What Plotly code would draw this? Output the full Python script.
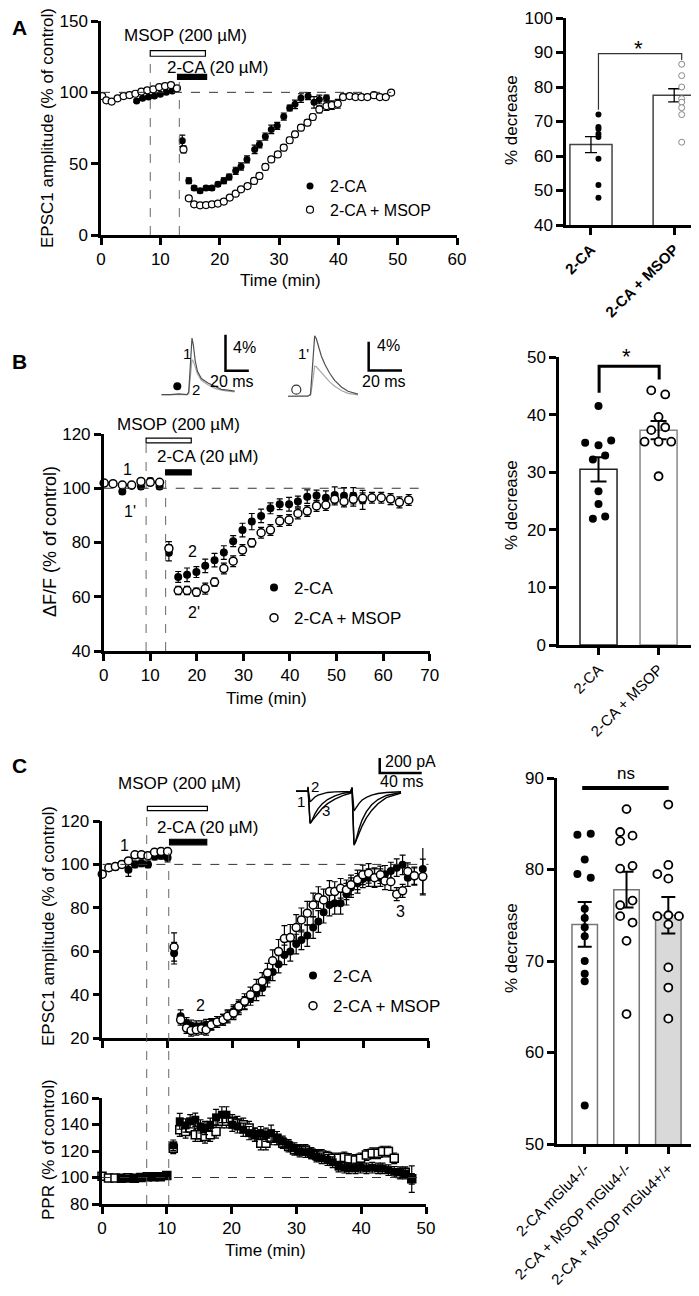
import plotly.graph_objects as go

FONT = "Liberation Sans, Arial, sans-serif"
W, H = 699, 1296

# ---------------- Panel A : EPSC1 amplitude time course ----------------
a_ca_t = [6, 7, 8, 9, 10, 11, 12,
          13.7, 14.8, 15.7, 16.7, 17.7, 18.7, 19.7, 20.7, 21.6, 22.7, 23.6, 24.6,
          25.9, 26.7, 27.7, 28.7, 29.7, 30.8, 31.8, 32.7, 33.7, 34.9, 35.9, 36.8, 38.0]
a_ca_y = [94, 95.8, 96.7, 97.4, 98.6, 100, 101,
          66, 38, 33, 31, 33, 33, 35.5, 38, 40.6, 45, 48, 53,
          60, 63.5, 69, 74, 76.5, 83, 89, 91.6, 96, 97.4, 93, 95, 96]
a_ca_e = [1, 1, 1, 1, 1, 1, 1,
          4, 2, 1.5, 1.5, 1.5, 1.5, 1.5, 2, 2, 2.5, 2.5, 2.5,
          3, 2.5, 2.5, 3, 2.5, 2.5, 2, 3, 3, 2.5, 4, 3, 2]

a_ms_t = [0.2, 0.9, 1.8, 2.8, 3.8, 4.8, 5.8, 6.8, 7.8, 8.8, 9.8, 10.8, 11.8, 12.8,
          13.9, 14.8, 15.7, 16.7, 17.7, 18.7, 19.7, 20.7, 21.7, 22.7, 23.6, 24.7,
          25.8, 26.7, 27.7, 28.7, 29.8, 30.8, 31.8, 32.7, 33.7, 34.8, 35.7, 36.8,
          38.0, 38.9, 39.9, 40.8, 41.9, 42.9, 43.9, 44.9, 46.0, 47.0, 48.0, 48.9]
a_ms_y = [97.4, 94.4, 93.5, 95.8, 97.4, 98.1, 99, 100.5, 101.4, 102.1, 103.7, 104.4, 105.1, 102.8,
          60, 25.7, 21.5, 20.8, 21, 21.5, 22, 23.4, 26.2, 29, 32, 34.3,
          37.9, 41.4, 47.7, 53, 56.5, 61.2, 66.4, 70.6, 75.2, 78.7, 82.7, 88,
          90.4, 91, 92, 96.7, 97.4, 96.7, 96.7, 96.7, 98, 96.7, 96.7, 99.8]
a_ms_e = [1, 1, 1, 1, 1, 1, 1, 1, 1, 1, 1, 1, 1, 1.5,
          2.5, 1.5, 1, 1, 1, 1, 1, 1, 1.5, 1.5, 1.5, 1.5,
          2, 2, 2, 2, 2, 2, 2, 2, 2, 2, 2, 2.5,
          3, 3, 3, 2, 1.5, 1.5, 1.5, 1.5, 1.5, 1.5, 1.5, 1.5]

# drug application (min)
a_msop_on, a_msop_off = 8.3, 17.6
a_ca_on, a_ca_off = 13.2, 17.8

# Panel A : bar chart (% decrease)
a_bar_labels = ["<b>2-CA</b>", "<b>2-CA + MSOP</b>"]
a_bar_mean = [63.3, 77.6]
a_bar_sem = [2.3, 1.9]
a_ca_pts = [72, 68.4, 67.8, 66.4, 65.5, 59.2, 51.6, 47.9]
a_ms_pts = [86.6, 83.3, 80, 76.6, 75.6, 74, 72, 64]

# ---------------- Panel B : dF/F time course ----------------
b_ca_t = [4, 6, 8, 10, 12,
          14, 16, 17.9, 19.9, 21.8, 23.8, 25.8, 27.8, 29.8, 31.8, 33.8, 35.8,
          37.8, 39.8, 41.7, 43.7, 45.7, 47.7, 49.6, 51.6, 53.6, 55.6]
b_ca_y = [98.8, 100.9, 100.6, 102.7, 100.6,
          76.2, 67.3, 68.1, 69.1, 71.4, 73.5, 76.3, 80.5, 84.6, 87.7, 89.8, 92.6,
          94.1, 94.1, 95.1, 96.9, 97.3, 96.5, 97.5, 97.2, 97.2, 95.7]
b_ca_e = [1, 1, 1, 1, 1,
          3, 2, 2.5, 2, 2.5, 2.5, 2.5, 2, 2.5, 3, 2.5, 2,
          2, 2.5, 2, 2.5, 2, 2.5, 3, 3, 3, 3.5]

b_ms_t = [0.1, 2, 4, 6, 8, 10, 12,
          14, 16, 17.9, 19.9, 21.8, 23.8, 25.8, 27.8, 29.8, 31.8, 33.8, 35.8,
          37.8, 39.8, 41.7, 43.7, 45.7, 47.7, 49.6, 51.6, 53.6, 55.6, 57.6, 59.6,
          61.6, 63.5, 65.5]
b_ms_y = [101.9, 101.7, 101.2, 101.2, 102.5, 102.2, 102.2,
          77.8, 62.3, 62.3, 61.7, 63, 65.4, 70.4, 73.1, 77.2, 79.9, 83.6, 84.6,
          87.9, 88.3, 90.7, 91.6, 93.5, 93.8, 95.9, 95.1, 95.9, 96.3, 96.5, 96.5,
          96, 94.8, 95.7]
b_ms_e = [0.8, 0.8, 1, 1, 1, 1, 1,
          2.5, 1.5, 1.5, 1.5, 2, 1.5, 2, 2, 2, 1.5, 2, 2,
          2, 2, 2, 2, 2, 2, 2, 2, 2.5, 2, 2, 2,
          2, 2, 2]

b_msop_on, b_msop_off = 9.1, 18.8
b_ca_on, b_ca_off = 13.3, 18.8

# Panel B : example dF/F transients (ms, %)
b1_t = [0, 8, 15, 22, 23.5, 25, 26.3, 27.5, 29, 31, 34.3, 40, 46, 51.4, 57, 62.9]
b1_ctrl = [0, 0, 0.1, 0, 0.3, 4, 6.3, 5.5, 3.8, 2.6, 1.8, 1.3, 0.9, 0.6, 0.5, 0.4]
b1_drug = [0, 0, 0, 0, 0.1, 2.2, 3.9, 3.7, 3.0, 2.3, 1.6, 1.1, 0.7, 0.5, 0.4, 0.3]
b2_t = [0, 4, 8, 12, 13.5, 14.5, 15.3, 16, 17, 18.5, 20, 22, 25, 28, 32, 36, 42]
b2_ctrl = [0, 0.05, 0, 0, 0.3, 3.5, 7, 8.4, 8.0, 6.8, 5.6, 4.5, 3.2, 2.2, 1.3, 0.7, 0.3]
b2_drug = [0, 0, 0, 0, 0.1, 1.5, 3.4, 4.2, 4.1, 3.7, 3.2, 2.7, 2.0, 1.4, 0.8, 0.4, 0.2]
b_scale_pct, b_scale_ms = 4, 20

# Panel B : bar chart
b_bar_labels = ["2-CA", "2-CA + MSOP"]
b_bar_mean = [30.5, 37.3]
b_bar_sem = [2.1, 1.6]
b_ca_pts = [41.5, 35.1, 34.7, 35.5, 32.2, 32.9, 26.7, 24.5, 21.9, 22.3]
b_ca_jit = [0, -0.222, 0, 0.211, -0.094, 0.111, 0, 0, -0.094, 0.111]
b_ms_pts = [44.2, 43.5, 39.6, 37.3, 37.8, 35.3, 35.3, 35.3, 29.3]
b_ms_jit = [-0.122, 0.111, 0, -0.122, 0.111, -0.233, 0, 0.211, 0]

# ---------------- Panel C : EPSC1 amplitude and PPR ----------------
c_post_t = [12.0, 12.9, 13.6, 14.4, 15.2, 15.9, 16.7, 17.6, 18.5, 19.2,
            20.1, 20.9, 21.8, 22.7, 23.6, 24.5, 25.3, 26.1, 27.0, 27.9,
            28.8, 29.7, 30.5, 31.4, 32.3, 33.1, 33.9, 34.8, 35.6, 36.5,
            37.4, 38.1, 39.1, 39.9, 40.8, 41.7, 42.6, 43.3, 44.2, 45.1,
            46.0, 46.8, 47.8, 49.1]

c_ca_base_t = [4, 5, 6, 7, 8, 9, 10, 11]
c_ca_base = [97.5, 100, 100.5, 100, 103.6, 104, 103.1, 59.1]
c_ca_base_e = [3, 1.5, 1.5, 1.5, 1.5, 1.5, 2, 5]
c_ca_post = [30.0, 26.9, 25.8, 25.4, 25.4, 26.1, 26.4, 27.4, 28.4, 30.0,
             32.3, 33.8, 36.1, 38.1, 40.7, 43.0, 47.6, 50.4, 54.0, 58.3,
             59.9, 63.3, 65.2, 67.2, 70.9, 73.7, 78.0, 81.3, 82.1, 82.1,
             86.3, 89.3, 91.3, 93.3, 93.9, 93.9, 93.9, 95.5, 97.0, 98.5,
             99.8, 93.9, 94.4, 97.9]
c_ca_post_e = [3, 2.5, 2.5, 2.5, 2.5, 2.5, 2.5, 2.5, 2.5, 2.5,
               3, 3, 3, 3, 3.5, 3.5, 4, 4, 4, 4.5,
               4.5, 4.5, 4.5, 5, 5, 5, 5, 5, 5, 5,
               5, 4.5, 4.5, 4, 4, 4, 4, 4, 4, 4,
               4.5, 4, 4, 12]

c_ms_base_t = [0, 1, 2, 3, 4, 5, 6, 7, 8, 9, 10, 11]
c_ms_base = [95.5, 98.5, 99, 100, 101.6, 104.4, 104.4, 104, 105.6, 105.9, 105.9, 61.9]
c_ms_base_e = [1.5, 1.5, 1.5, 1.5, 1.5, 1.5, 1.5, 1.5, 1.5, 1.5, 1.5, 6.5]
c_ms_post = [28.4, 24.6, 23.4, 23.8, 24.3, 23.8, 26.1, 27.4, 28.4, 30.0,
             31.5, 34.6, 36.9, 39.9, 43.0, 46.1, 49.9, 55.6, 59.9, 65.8,
             66.3, 70.9, 74.4, 77.5, 81.3, 84.7, 83.6, 87.5, 87.5, 89.0,
             88.3, 90.6, 92.9, 95.2, 95.9, 93.9, 95.2, 92.4, 92.0, 86.3,
             87.8, 96.7, 94.8, 94.4]
c_ms_post_e = [2.5, 2.5, 2.5, 2.5, 2.5, 2.5, 2.5, 2.5, 2.5, 3,
               3, 3, 3.5, 3.5, 4, 4, 4.5, 5, 5.5, 6,
               6, 6, 5.5, 5.5, 5.5, 5, 5, 5, 4.5, 4.5,
               4.5, 4.5, 4.5, 4.5, 4.5, 4.5, 4, 4, 4, 3,
               3, 4, 4, 8]

ppr_ca_base_t = [3, 4, 5, 6, 7, 8, 9, 10, 11]
ppr_ca_base = [99, 99.3, 99.3, 99.6, 100.3, 100.5, 100.5, 101.5, 124.3]
ppr_ca_base_e = [1, 1, 1, 1, 1, 1, 1, 1.5, 4]
ppr_ca_post = [142.4, 139.3, 142.4, 143.6, 138.6, 137.3, 139.8, 145.4, 147.4, 147.4,
               139.8, 138.6, 136.0, 133.5, 132.2, 133.5, 132.2, 133.5, 129.7, 127.2,
               124.6, 122.1, 119.6, 119.1, 118.3, 115.8, 114.5, 113.2, 111.5, 108.2,
               107.4, 106.9, 106.9, 107.4, 106.9, 107.4, 106.9, 106.9, 105.6, 104.3,
               104.0, 103.0, 98.8]
ppr_ca_post_e = [6, 5, 5, 5, 5, 5, 5, 6, 6, 6,
                 5, 5, 5, 5, 5, 5, 5, 6, 5, 4,
                 4, 4, 4, 4, 4, 4, 4, 4, 4, 4,
                 4, 4, 4, 4, 4, 4, 4, 4, 4, 4,
                 4, 4, 10]
ppr_ms_base_t = [0, 1, 2, 3, 4, 5, 6, 7, 8, 9, 10, 11]
ppr_ms_base = [101, 99.6, 99.6, 99.5, 99.8, 99.5, 100, 100.5, 100.5, 100.5, 101.5, 122]
ppr_ms_base_e = [1.5, 1, 1, 1, 1, 1, 1, 1, 1, 1, 1.5, 4]
ppr_ms_post = [136, 134.7, 137.4, 132.2, 132.2, 130.9, 132.2, 134.7, 142.4, 142.4,
               142.4, 141.1, 139.8, 137.4, 132.2, 125.9, 125.9, 129.7, 129.7, 125.9,
               123.4, 120.8, 120.8, 120.8, 118.3, 117.0, 117.0, 115.8, 114.5, 114.5,
               115.1, 114.0, 113.2, 114.5, 117.0, 118.3, 118.3, 119.6, 119.6, 114.5,
               103, 104, 99]
ppr_ms_post_e = [5, 5, 5, 5, 5, 5, 5, 5, 5, 5,
                 5, 5, 5, 5, 5, 5, 5, 5, 5, 4,
                 4, 4, 4, 4, 4, 4, 4, 4, 4, 4,
                 4, 4, 4, 4, 4, 4, 4, 4, 4, 4,
                 4, 4, 4]

c_msop_on, c_msop_off = 6.9, 16.1
c_ca_on, c_ca_off = 10.3, 16.0

# Panel C : example EPSC pairs (ms, pA)
c_tr_t = [0, 11.0, 11.4, 12.2, 13.3, 14.5, 16, 18, 21, 25, 30, 37, 45, 52,
          53.3, 54.2, 55.2, 56.5, 58, 60, 63, 67, 72, 78, 86, 100]
c_tr_1 = [0, 0, 60, -250, -430, -410, -360, -300, -230, -165, -110, -60, -25, -10,
          50, -450, -720, -680, -600, -500, -380, -270, -180, -110, -55, -15]
c_tr_2 = [0, 0, 40, -80, -140, -125, -100, -75, -50, -30, -15, -8, -4, -2,
          40, -150, -260, -235, -200, -160, -115, -80, -50, -30, -15, -5]
c_tr_3 = [0, 0, 50, -230, -410, -405, -380, -340, -285, -225, -165, -105, -55, -25,
          50, -430, -700, -680, -630, -560, -460, -355, -255, -165, -85, -25]
c_scale_pa, c_scale_ms = 200, 40

# Panel C : bar chart
c_bar_labels = ["2-CA mGlu4-/-", "2-CA + MSOP mGlu4-/-", "2-CA + MSOP mGlu4+/+"]
c_bar_mean = [74.0, 77.8, 75.0]
c_bar_sem = [2.45, 1.95, 2.0]
c_bar_fill = ["white", "white", "#d9d9d9"]
c_ko_ca_pts = [83.8, 83.9, 81.1, 79.5, 79.1, 75.7, 74.7, 73.7, 72.7, 70.0, 68.6, 67.8, 54.2]
c_ko_ca_jit = [-0.175, 0.144, 0, -0.175, 0.144, 0, 0, 0, 0, 0, 0, 0, 0]
c_ko_ms_pts = [86.6, 84.1, 83.1, 83.7, 80.1, 80.4, 76.1, 76.6, 74.9, 74.2, 72.2, 64.2]
c_ko_ms_jit = [0, -0.152, -0.152, 0.144, -0.152, 0.144, -0.152, 0.144, -0.152, 0.144, 0, 0]
c_wt_ms_pts = [87.1, 79.5, 80.5, 79.0, 74.9, 75.0, 74.9, 74.0, 69.3, 67.1, 63.7]
c_wt_ms_jit = [0, -0.263, 0, 0, -0.263, 0, 0.255, 0, 0, 0, 0]


def px(x):
    return x / W


def py(y):
    return 1 - y / H


def err(arr, w=3, th=1.2):
    return dict(type="data", array=arr, visible=True, color="black", thickness=th, width=w)


def dot(size, open_=False, lc="black", lw=1.5):
    if open_:
        return dict(symbol="circle", size=size, color="white", line=dict(color=lc, width=lw))
    return dict(symbol="circle", size=size, color="black", line=dict(color="black", width=0))


fig = go.Figure()

# ---- A
fig.add_trace(go.Scatter(x=a_ca_t, y=a_ca_y, error_y=err(a_ca_e), mode="markers",
                         marker=dot(7), name="2-CA", xaxis="x", yaxis="y",
                         legend="legend", legendgroup="a1", cliponaxis=False))
fig.add_trace(go.Scatter(x=a_ms_t, y=a_ms_y, error_y=err(a_ms_e), mode="markers",
                         marker=dot(7, True, lw=1.2), name="2-CA + MSOP", xaxis="x", yaxis="y",
                         legend="legend", legendgroup="a2", cliponaxis=False))
fig.add_trace(go.Bar(x=[0, 1], y=a_bar_mean, width=0.506, xaxis="x2", yaxis="y2",
                     marker=dict(color="white", line=dict(color="#444", width=1.5)),
                     error_y=err(a_bar_sem, 6, 1.3), showlegend=False))
fig.add_trace(go.Scatter(x=[0.09 for _ in a_ca_pts], y=a_ca_pts, mode="markers",
                         marker=dot(6), xaxis="x2", yaxis="y2", showlegend=False))
fig.add_trace(go.Scatter(x=[1.09 for _ in a_ms_pts], y=a_ms_pts, mode="markers",
                         marker=dot(6, True, "#888", 1), xaxis="x2", yaxis="y2", showlegend=False))

# ---- B
fig.add_trace(go.Scatter(x=b_ca_t, y=b_ca_y, error_y=err(b_ca_e), mode="markers",
                         marker=dot(8), name="2-CA", xaxis="x3", yaxis="y3",
                         legend="legend2", legendgroup="b1", cliponaxis=False))
fig.add_trace(go.Scatter(x=b_ms_t, y=b_ms_y, error_y=err(b_ms_e), mode="markers",
                         marker=dot(8, True), name="2-CA + MSOP", xaxis="x3", yaxis="y3",
                         legend="legend2", legendgroup="b2", cliponaxis=False))
fig.add_trace(go.Bar(x=[0, 1], y=b_bar_mean, width=0.617, xaxis="x4", yaxis="y4",
                     marker=dict(color="white", line=dict(color=["#222", "#888"], width=1.5)),
                     error_y=err(b_bar_sem, 8, 2), showlegend=False))
fig.add_trace(go.Scatter(x=[0 + j for j in b_ca_jit], y=b_ca_pts, mode="markers",
                         marker=dot(8), xaxis="x4", yaxis="y4", showlegend=False))
fig.add_trace(go.Scatter(x=[1 + j for j in b_ms_jit], y=b_ms_pts, mode="markers",
                         marker=dot(8, True, lw=1.8), xaxis="x4", yaxis="y4", showlegend=False))
for xs, ys, col, ax in [(b1_t, b1_drug, "#a8a8a8", "5"), (b1_t, b1_ctrl, "#505050", "5"),
                        (b2_t, b2_drug, "#a8a8a8", "6"), (b2_t, b2_ctrl, "#505050", "6")]:
    fig.add_trace(go.Scatter(x=xs, y=ys, mode="lines", line=dict(color=col, width=1.2),
                             xaxis="x" + ax, yaxis="y" + ax, showlegend=False))

# ---- C
fig.add_trace(go.Scatter(x=c_ca_base_t + c_post_t, y=c_ca_base + c_ca_post,
                         error_y=err(c_ca_base_e + c_ca_post_e), mode="markers",
                         marker=dot(8), name="2-CA", xaxis="x7", yaxis="y7",
                         legend="legend3", legendgroup="c1", cliponaxis=False))
fig.add_trace(go.Scatter(x=c_ms_base_t + c_post_t, y=c_ms_base + c_ms_post,
                         error_y=err(c_ms_base_e + c_ms_post_e), mode="markers",
                         marker=dot(8, True), name="2-CA + MSOP", xaxis="x7", yaxis="y7",
                         legend="legend3", legendgroup="c2", cliponaxis=False))
fig.add_trace(go.Scatter(x=ppr_ms_base_t + c_post_t[:43], y=ppr_ms_base + ppr_ms_post,
                         error_y=err(ppr_ms_base_e + ppr_ms_post_e), mode="markers",
                         marker=dict(symbol="square", size=8, color="white",
                                     line=dict(color="black", width=1.5)),
                         xaxis="x8", yaxis="y8", showlegend=False, cliponaxis=False))
fig.add_trace(go.Scatter(x=ppr_ca_base_t + c_post_t[:43], y=ppr_ca_base + ppr_ca_post,
                         error_y=err(ppr_ca_base_e + ppr_ca_post_e), mode="markers",
                         marker=dict(symbol="square", size=8, color="black"),
                         xaxis="x8", yaxis="y8", showlegend=False, cliponaxis=False))
fig.add_trace(go.Bar(x=[0, 1, 2], y=c_bar_mean, width=0.61, xaxis="x9", yaxis="y9",
                     marker=dict(color=c_bar_fill, line=dict(color="#777", width=1.5)),
                     error_y=err(c_bar_sem, 7, 2), showlegend=False))
fig.add_trace(go.Scatter(x=[0 + j for j in c_ko_ca_jit], y=c_ko_ca_pts, mode="markers",
                         marker=dot(8), xaxis="x9", yaxis="y9", showlegend=False))
fig.add_trace(go.Scatter(x=[1 + j for j in c_ko_ms_jit], y=c_ko_ms_pts, mode="markers",
                         marker=dot(8, True, lw=1.8), xaxis="x9", yaxis="y9", showlegend=False))
fig.add_trace(go.Scatter(x=[2 + j for j in c_wt_ms_jit], y=c_wt_ms_pts, mode="markers",
                         marker=dot(8, True, lw=1.8), xaxis="x9", yaxis="y9", showlegend=False))
for ys in (c_tr_2, c_tr_3, c_tr_1):
    fig.add_trace(go.Scatter(x=c_tr_t, y=ys, mode="lines", line=dict(color="black", width=1.4),
                             xaxis="x10", yaxis="y10", showlegend=False))

# ---------------- axes ----------------
AX = dict(showline=True, linecolor="black", linewidth=2.5, ticks="outside", ticklen=7,
          tickwidth=2.5, tickcolor="black", showgrid=False, zeroline=False, automargin=False,
          ticklabeloverflow="allow",
          tickfont=dict(size=17, color="black", family=FONT), fixedrange=True)
HID = dict(visible=False, fixedrange=True, automargin=False)
XL = dict(size=15, family=FONT, color="black")

layout_axes = dict(
    xaxis=dict(AX, domain=[px(93), px(449)], range=[0, 60], tickvals=list(range(0, 61, 10)), anchor="y"),
    yaxis=dict(AX, domain=[py(227), py(13)], range=[0, 150], tickvals=[0, 50, 100, 150], anchor="x"),
    xaxis2=dict(AX, domain=[px(558), px(692)], range=[-0.3, 1.31], tickvals=[0, 1],
                ticktext=a_bar_labels, tickangle=-45, tickfont=XL, anchor="y2"),
    yaxis2=dict(AX, domain=[py(217), py(10)], range=[40, 100], tickvals=list(range(40, 101, 10)), anchor="x2"),
    xaxis3=dict(AX, domain=[px(95.7), px(421.7)], range=[0, 70], tickvals=list(range(0, 71, 10)), anchor="y3"),
    yaxis3=dict(AX, domain=[py(643), py(426)], range=[40, 120], tickvals=list(range(40, 121, 20)), anchor="x3"),
    xaxis4=dict(AX, domain=[px(551), px(692)], range=[-0.658, 1.69], tickvals=[0, 1],
                ticktext=b_bar_labels, tickangle=-45, tickfont=XL, anchor="y4"),
    yaxis4=dict(AX, domain=[py(637), py(349)], range=[0, 50], tickvals=list(range(0, 51, 10)), anchor="x4"),
    xaxis5=dict(HID, domain=[px(153.3), px(242)], range=[0, 76], anchor="y5"),
    yaxis5=dict(HID, domain=[py(392), py(325)], range=[-0.59, 6.86], anchor="x5"),
    xaxis6=dict(HID, domain=[px(280), px(396)], range=[0, 69.6], anchor="y6"),
    yaxis6=dict(HID, domain=[py(392), py(325)], range=[-0.52, 8.8], anchor="x6"),
    xaxis7=dict(AX, domain=[px(94.3), px(420.7)], range=[0, 50], tickvals=list(range(0, 51, 10)),
                showticklabels=False, anchor="y7"),
    yaxis7=dict(AX, domain=[py(1030), py(813)], range=[20, 120], tickvals=list(range(20, 121, 20)), anchor="x7"),
    xaxis8=dict(AX, domain=[px(94), px(418)], range=[0, 50], tickvals=list(range(0, 51, 10)), anchor="y8"),
    yaxis8=dict(AX, domain=[py(1196), py(1090)], range=[80, 160], tickvals=list(range(80, 161, 20)), anchor="x8"),
    xaxis9=dict(AX, domain=[px(549), px(690)], range=[-0.663, 2.71], tickvals=[0, 1, 2],
                ticktext=c_bar_labels, tickangle=-45, tickfont=XL, anchor="y9"),
    yaxis9=dict(AX, domain=[py(1136), py(770)], range=[50, 90], tickvals=list(range(50, 91, 10)), anchor="x9"),
    xaxis10=dict(HID, domain=[px(285), px(430)], range=[-2.9, 135.2], anchor="y10"),
    yaxis10=dict(HID, domain=[py(840), py(745)], range=[-756, 511], anchor="x10"),
)

# ---------------- shapes ----------------
DASH = dict(color="#333", width=1, dash="dash")
VDASH = dict(color="#555", width=0.9, dash="dash")
shapes = []


def hline(xr, yr, y, x0, x1):
    shapes.append(dict(type="line", xref=xr, yref=yr, x0=x0, x1=x1, y0=y, y1=y, line=DASH))


def vline(xr, yr, x, y0, y1):
    shapes.append(dict(type="line", xref=xr, yref=yr, x0=x, x1=x, y0=y0, y1=y1, line=VDASH))


def drug(xr, yr, x0, x1, y0, y1, fill):
    shapes.append(dict(type="rect", xref=xr, yref=yr, x0=x0, x1=x1, y0=y0, y1=y1,
                       fillcolor=fill, line=dict(color="black", width=1.2)))


# A
hline("x", "y", 100, 0, 48.9)
vline("x", "y", a_msop_on, 0, 125.3)
vline("x", "y", a_ca_on, 0, 109)
drug("x", "y", a_msop_on, a_msop_off, 125.3, 129.2, "white")
drug("x", "y", a_ca_on - 0.3, a_ca_off, 109, 112.6, "black")
shapes.append(dict(type="path", xref="x2", yref="y2", path="M 0.09,73.4 L 0.09,89.7 L 1.09,89.7 L 1.09,87.8",
                   line=dict(color="#333", width=1.2)))
# B
hline("x3", "y3", 100, 0, 68.8)
vline("x3", "y3", b_msop_on, 40, 116.7)
vline("x3", "y3", b_ca_on, 40, 104.9)
drug("x3", "y3", b_msop_on, b_msop_off, 116.7, 118.5, "white")
drug("x3", "y3", b_ca_on, b_ca_off, 104.9, 106.8, "black")
shapes.append(dict(type="path", xref="x4", yref="y4", path="M 0.01,43.8 L 0.01,48.4 L 1.01,48.4 L 1.01,46.1",
                   line=dict(color="black", width=3)))
for ax, sx, sy in [("5", 55, 2.67), ("6", 48.4, 3.57)]:
    shapes.append(dict(type="path", xref="x" + ax, yref="y" + ax,
                       path=f"M {sx},{sy + b_scale_pct} L {sx},{sy} L {sx + b_scale_ms},{sy}",
                       line=dict(color="black", width=2.5)))
shapes.append(dict(type="circle", xref="paper", yref="paper", x0=px(165.3), x1=px(173.3),
                   y0=py(382.3), y1=py(374.3), fillcolor="black", line=dict(color="black", width=0)))
shapes.append(dict(type="circle", xref="paper", yref="paper", x0=px(283.8), x1=px(292.8),
                   y0=py(386.2), y1=py(377.2), fillcolor="white", line=dict(color="#333", width=1.2)))
# C
hline("x7", "y7", 100, 0, 50)
hline("x8", "y8", 100, 0, 50)
vline("x8", "paper", c_msop_on, py(1196), py(802.7))
vline("x8", "paper", c_ca_on, py(1196), py(836.7))
drug("x7", "paper", c_msop_on, c_msop_off, py(802.7), py(798.3), "white")
drug("x7", "y7", c_ca_on, c_ca_off, 109, 111.6, "black")
shapes.append(dict(type="line", xref="x9", yref="y9", x0=-0.06, x1=2.01, y0=88.9, y1=88.9,
                   line=dict(color="black", width=4)))
shapes.append(dict(type="path", xref="x10", yref="y10",
                   path=f"M 79.7,{244 + c_scale_pa} L 79.7,244 L {79.7 + c_scale_ms},244",
                   line=dict(color="black", width=2.5)))

# ---------------- text ----------------
anns = []


def txt(s, x, y, size=17, angle=0, bold=False, xanchor="center", xref="paper", yref="paper"):
    if xref == "paper":
        x = px(x)
    if yref == "paper":
        y = py(y)
    anns.append(dict(text=f"<b>{s}</b>" if bold else s, x=x, y=y, xref=xref, yref=yref,
                     xanchor=xanchor, yanchor="middle", showarrow=False, textangle=angle,
                     font=dict(size=size, color="black", family=FONT)))


# panel letters
txt("A", 11, 20, 21, bold=True)
txt("B", 11, 353, 21, bold=True)
txt("C", 11, 757, 21, bold=True)
# axis titles
txt("EPSC1 amplitude (% of control)", 40, 120, angle=-90)
txt("Time (min)", 272, 272)
txt("% decrease", 504, 112, angle=-90)
txt("ΔF/F (% of control)", 42, 534, 18, angle=-90)
txt("Time (min)", 258, 690)
txt("% decrease", 503, 497, angle=-90)
txt("EPSC1 amplitude (% of control)", 40, 918, angle=-90)
txt("PPR (% of control)", 40, 1142, angle=-90)
txt("Time (min)", 257, 1242)
txt("% decrease", 503, 940, angle=-90)
# drug labels
txt("MSOP (200 µM)", 177, 27)
txt("2-CA (20 µM)", 209, 60)
txt("MSOP (200 µM)", 170, 416)
txt("2-CA (20 µM)", 199, 448)
txt("MSOP (200 µM)", 171, 775)
txt("2-CA (20 µM)", 199, 819)
# significance
txt("*", 630, 41, 22)
txt("*", 618, 348, 22)
txt("ns", 618, 765, 17)
# point labels
txt("1", 5.2, 106.8, 16, xref="x3", yref="y3")
txt("1'", 5.6, 91.6, 16, xref="x3", yref="y3")
txt("2", 19.0, 76.6, 16, xref="x3", yref="y3")
txt("2'", 19.3, 54.3, 16, xref="x3", yref="y3")
txt("1", 3.4, 108.8, 16, xref="x7", yref="y7")
txt("2", 15.1, 35.1, 16, xref="x7", yref="y7")
txt("3", 45.7, 78.4, 16, xref="x7", yref="y7")
# inset labels
txt("1", 179, 345, 15)
txt("2", 188, 382, 15)
txt("1'", 295, 345, 15)
txt("4%", 222.7, 339, 16, xanchor="left")
txt("20 ms", 224, 373, 16)
txt("4%", 366.7, 338, 16, xanchor="left")
txt("20 ms", 375.5, 373, 16)
txt("1", 292.7, 793, 15)
txt("2", 306.7, 779, 15)
txt("3", 318.3, 802, 15)
txt("200 pA", 375, 753, 16, xanchor="left")
txt("40 ms", 394, 773, 16)

LEG = dict(bgcolor="rgba(0,0,0,0)", borderwidth=0, xanchor="left", yanchor="top",
           itemwidth=30, font=dict(size=17, color="black", family=FONT))

fig.update_layout(
    width=W, height=H, margin=dict(l=0, r=0, t=0, b=0),
    paper_bgcolor="white", plot_bgcolor="white",
    font=dict(family=FONT, size=17, color="black"),
    showlegend=True,
    legend=dict(LEG, x=px(282), y=py(161), tracegroupgap=0, font=dict(size=16, color="black", family=FONT)),
    legend2=dict(LEG, x=px(246), y=py(562), tracegroupgap=5),
    legend3=dict(LEG, x=px(285), y=py(950), tracegroupgap=5),
    shapes=shapes, annotations=anns,
    **layout_axes,
)

fig.write_html("out.html")
